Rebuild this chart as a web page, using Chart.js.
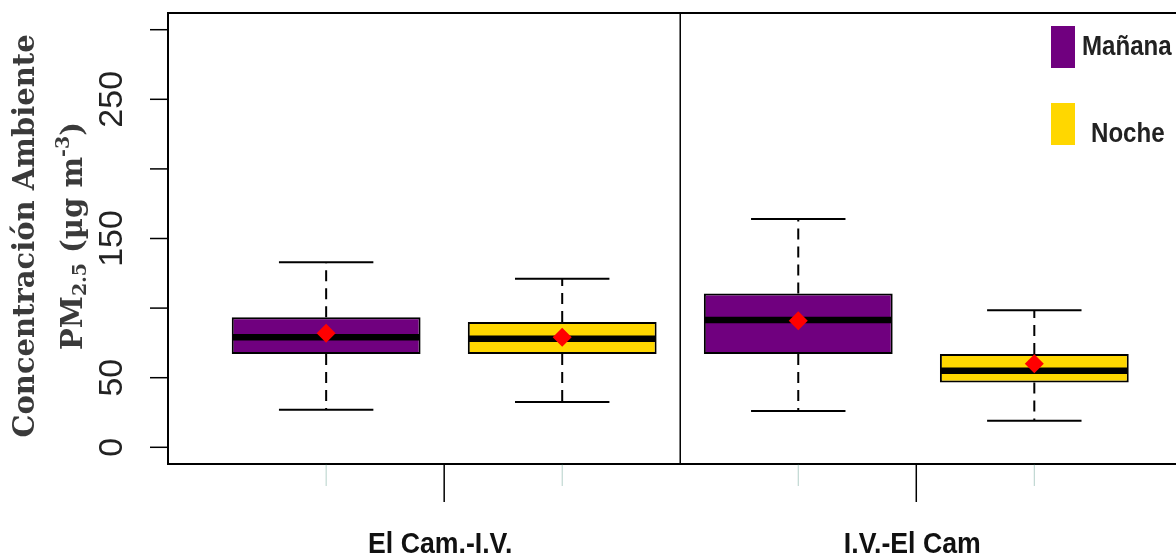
<!DOCTYPE html>
<html>
<head>
<meta charset="utf-8">
<script src="https://cdn.jsdelivr.net/npm/chart.js@4.4.1/dist/chart.umd.min.js"></script>
<style>
  html, body { margin: 0; padding: 0; background: #fff; }
  #wrap { width: 1176px; height: 556px; position: relative; }
</style>
</head>
<body>
<div id="wrap"><canvas id="boxChart"></canvas></div>
<script>
// data
const groups = ['El Cam.-I.V.', 'I.V.-El Cam'];
const seriesNames = ['Mañana', 'Noche'];
const seriesColors = ['#70007f', '#ffd700'];

const mananaMin = [27, 26];
const mananaQ1 = [67, 67];
const mananaMedian = [79, 91.5];
const mananaQ3 = [93.5, 110.5];
const mananaMax = [133, 164];
const mananaMean = [82, 91];

const nocheMin = [32.5, 19];
const nocheQ1 = [67, 46.5];
const nocheMedian = [78, 55];
const nocheQ3 = [90, 67];
const nocheMax = [121, 98.5];
const nocheMean = [79, 60];

const yTicks = [0, 50, 100, 150, 200, 250, 300];
const yTickLabels = ['0', '50', '', '150', '', '250', ''];

const yTitle = 'Concentración Ambiente';

// position of a box on the x scale: group g, series s
const pos = (g, s) => g * 2 + s + 1;

const stats = [
  { min: mananaMin, q1: mananaQ1, median: mananaMedian, q3: mananaQ3, max: mananaMax, mean: mananaMean },
  { min: nocheMin, q1: nocheQ1, median: nocheMedian, q3: nocheQ3, max: nocheMax, mean: nocheMean }
];

const boxSets = stats.map((st, s) => ({
  type: 'bar',
  label: seriesNames[s],
  data: groups.map((g, gi) => ({ x: pos(gi, s), y: [st.q1[gi], st.q3[gi]] })),
  backgroundColor: seriesColors[s],
  borderColor: '#000',
  borderWidth: 2,
  borderSkipped: false,
  grouped: false,
  categoryPercentage: 0.8,
  barPercentage: 1,
  order: 1
}));

const meanPoints = [];
stats.forEach((st, s) => groups.forEach((g, gi) => meanPoints.push({ x: pos(gi, s), y: st.mean[gi] })));

const meanSet = {
  type: 'scatter',
  label: 'media',
  data: meanPoints,
  pointStyle: 'rectRot',
  pointRadius: 9.5,
  pointBackgroundColor: '#ff0000',
  pointBorderWidth: 0,
  order: 0
};

// narrow bold text (no Arial Narrow here, so squeeze Liberation Sans)
function narrowText(ctx, txt, x, y, align, squeeze) {
  ctx.save();
  ctx.translate(x, y);
  ctx.scale(squeeze, 1);
  ctx.textAlign = align;
  ctx.fillText(txt, 0, 0);
  ctx.restore();
}

const boxExtras = {
  id: 'boxExtras',
  afterDatasetDraw(chart, args) {
    const ds = chart.data.datasets[args.index];
    if (ds.type !== 'bar') return;
    const ctx = chart.ctx;
    const y = chart.scales.y;
    const st = stats[args.index];
    args.meta.data.forEach((bar, gi) => {
      const half = bar.width / 2;
      const cap = bar.width / 4;
      ctx.save();
      ctx.strokeStyle = '#000';
      // whiskers
      ctx.lineWidth = 2;
      ctx.setLineDash([11, 7]);
      ctx.beginPath();
      ctx.moveTo(bar.x, y.getPixelForValue(st.q3[gi]));
      ctx.lineTo(bar.x, y.getPixelForValue(st.max[gi]));
      ctx.moveTo(bar.x, y.getPixelForValue(st.q1[gi]));
      ctx.lineTo(bar.x, y.getPixelForValue(st.min[gi]));
      ctx.stroke();
      ctx.setLineDash([]);
      ctx.beginPath();
      ctx.moveTo(bar.x - cap, y.getPixelForValue(st.max[gi]));
      ctx.lineTo(bar.x + cap, y.getPixelForValue(st.max[gi]));
      ctx.moveTo(bar.x - cap, y.getPixelForValue(st.min[gi]));
      ctx.lineTo(bar.x + cap, y.getPixelForValue(st.min[gi]));
      ctx.stroke();
      // median
      ctx.lineWidth = 6.5;
      ctx.beginPath();
      ctx.moveTo(bar.x - half + 1, y.getPixelForValue(st.median[gi]));
      ctx.lineTo(bar.x + half - 1, y.getPixelForValue(st.median[gi]));
      ctx.stroke();
      ctx.restore();
    });
  },
  afterDraw(chart) {
    const ctx = chart.ctx;
    const a = chart.chartArea;
    const x = chart.scales.x;
    const y = chart.scales.y;
    ctx.save();
    ctx.strokeStyle = '#000';
    ctx.lineWidth = 2;
    // frame (right side falls off the canvas)
    ctx.beginPath();
    ctx.moveTo(chart.width, a.top);
    ctx.lineTo(a.left, a.top);
    ctx.lineTo(a.left, a.bottom);
    ctx.lineTo(chart.width, a.bottom);
    ctx.stroke();
    // divider between groups
    ctx.lineWidth = 1.5;
    ctx.beginPath();
    ctx.moveTo(x.getPixelForValue(2.5), a.top);
    ctx.lineTo(x.getPixelForValue(2.5), a.bottom);
    ctx.stroke();

    // y ticks and labels
    ctx.lineWidth = 1.5;
    ctx.fillStyle = '#222';
    ctx.font = '34px "Liberation Sans", Arial, sans-serif';
    ctx.textAlign = 'center';
    ctx.textBaseline = 'middle';
    yTicks.forEach((v, i) => {
      const py = y.getPixelForValue(v);
      ctx.beginPath();
      ctx.moveTo(a.left - 18, py);
      ctx.lineTo(a.left, py);
      ctx.stroke();
      if (yTickLabels[i]) {
        ctx.save();
        ctx.translate(112, py);
        ctx.rotate(-Math.PI / 2);
        ctx.fillText(yTickLabels[i], 0, 1);
        ctx.restore();
      }
    });

    // faint ticks under each box
    ctx.strokeStyle = 'rgba(40,120,100,0.35)';
    ctx.lineWidth = 1;
    groups.forEach((g, gi) => seriesNames.forEach((s, si) => {
      const px = x.getPixelForValue(pos(gi, si));
      ctx.beginPath();
      ctx.moveTo(px, a.bottom);
      ctx.lineTo(px, a.bottom + 22);
      ctx.stroke();
    }));

    // group ticks and labels
    ctx.strokeStyle = '#000';
    ctx.lineWidth = 1.5;
    ctx.fillStyle = '#111';
    ctx.font = 'bold 29px "Liberation Sans", Arial, sans-serif';
    ctx.textBaseline = 'alphabetic';
    groups.forEach((g, gi) => {
      const px = x.getPixelForValue(pos(gi, 0) + 0.5);
      ctx.beginPath();
      ctx.moveTo(px, a.bottom);
      ctx.lineTo(px, a.bottom + 38);
      ctx.stroke();
      narrowText(ctx, g, px - 4, 553, 'center', 0.92);
    });

    // y axis title
    ctx.save();
    ctx.translate(26, 236);
    ctx.rotate(-Math.PI / 2);
    ctx.fillStyle = '#3a3a3a';
    ctx.font = 'bold 29px "DejaVu Serif", serif';
    ctx.textAlign = 'center';
    ctx.textBaseline = 'middle';
    ctx.fillText(yTitle, 0, 0);
    // second line with sub- and superscript
    const big = 'bold 29px "DejaVu Serif", serif';
    const small = 'bold 19px "DejaVu Serif", serif';
    const parts = [
      { t: 'PM', f: big, dy: 0 },
      { t: '2.5', f: small, dy: 7 },
      { t: ' (µg m', f: big, dy: 0 },
      { t: '-3', f: small, dy: -10 },
      { t: ')', f: big, dy: 0 }
    ];
    let total = 0;
    parts.forEach(p => { ctx.font = p.f; p.w = ctx.measureText(p.t).width; total += p.w; });
    let cx = -total / 2;
    ctx.textAlign = 'left';
    parts.forEach(p => {
      ctx.font = p.f;
      ctx.fillText(p.t, cx, 48 + p.dy);
      cx += p.w;
    });
    ctx.restore();

    // legend
    ctx.font = 'bold 28px "Liberation Sans", Arial, sans-serif';
    ctx.textBaseline = 'middle';
    const legendY = [47, 124];
    const legendTx = [1082, 1091];
    seriesNames.forEach((n, i) => {
      ctx.fillStyle = seriesColors[i];
      ctx.fillRect(1051, legendY[i] - 21, 24, 42);
      ctx.fillStyle = '#222';
      narrowText(ctx, n, legendTx[i], legendY[i] + (i ? 10 : 0), 'left', 0.86);
    });
    ctx.restore();
  }
};

new Chart(document.getElementById('boxChart'), {
  type: 'bar',
  data: { datasets: [...boxSets, meanSet] },
  options: {
    responsive: true,
    maintainAspectRatio: false,
    animation: false,
    layout: { padding: { left: 168, top: 13, right: 0, bottom: 92 } },
    scales: {
      x: {
        type: 'linear', min: 0.33, max: 4.56, offset: false, display: false,
        ticks: { stepSize: 1, includeBounds: false }
      },
      y: { min: -12, max: 312, display: false }
    },
    plugins: {
      legend: { display: false },
      tooltip: { enabled: false }
    }
  },
  plugins: [boxExtras]
});
</script>
</body>
</html>
